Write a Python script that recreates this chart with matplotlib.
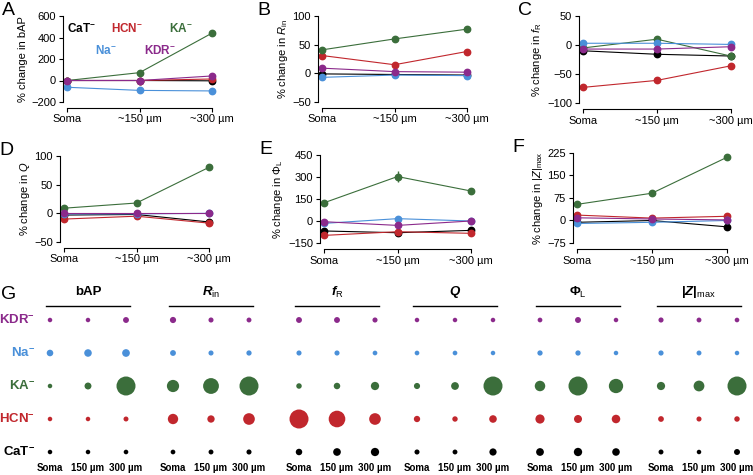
import matplotlib.pyplot as plt
import numpy as np

plt.rcParams['font.family'] = ['Liberation Sans', 'DejaVu Sans']
plt.rcParams['mathtext.fontset'] = 'custom'
plt.rcParams['mathtext.rm'] = 'Liberation Sans'
plt.rcParams['mathtext.it'] = 'Liberation Sans:italic'
plt.rcParams['mathtext.bf'] = 'Liberation Sans:bold'
plt.rcParams['mathtext.bfit'] = 'Liberation Sans:bold:italic'

W, H = 753, 475

locations = ['Soma', '~150 µm', '~300 µm']
g_locations = ['Soma', '150 µm', '300 µm']
channels = ['CaT', 'HCN', 'KA', 'Na', 'KDR']
colors = ['black', '#c1272d', '#3b6e3b', '#4a90d9', '#8b2a8b']

# % change after knocking out each channel (rows follow `channels`)
bap = [[0, 0, -3], [0, 0, 14], [0, 73, 439], [-63, -92, -97], [0, 0, 42]]
rin = [[-1, -2, -3], [31, 15, 38], [41, 60, 77], [-7, -3, -4], [9, 3, 2]]
fr = [[-10, -16, -19], [-73, -61, -36], [-5, 10, -19], [3, 3, 1], [-7, -7, -3]]
q = [[-3, -2, -15], [-10, -5, -17], [9, 18, 80], [-1, -1, 0], [0, 0, 0]]
phi = [[-68, -80, -64], [-98, -73, -84], [125, 303, 205], [-16, 16, 0], [-5, -30, 0]]
phi_ka_err = [0, 35, 0]
zmax = [[-6, 0, -21], [18, 8, 14], [54, 91, 210], [-10, -6, 0], [9, 5, 2]]


def px_rect(left, top, right, bottom):
    return [left / W, 1 - bottom / H, (right - left) / W, (bottom - top) / H]


fig = plt.figure(figsize=(W / 100, H / 100), dpi=100)

panels = [
    ('A', bap, '% change in bAP', (-200, 600), [-200, 0, 200, 400, 600], (63, 16, 216, 102)),
    ('B', rin, r'% change in $\mathit{R}_{\mathrm{in}}$', (-50, 100), [-50, 0, 50, 100], (318, 16, 471, 102)),
    ('C', fr, r'% change in $\mathit{f}_{\mathrm{R}}$', (-100, 50), [-100, -50, 0, 50], (579, 16, 735, 103)),
    ('D', q, r'% change in $\mathit{Q}$', (-50, 100), [-50, 0, 50, 100], (60, 156, 213, 242)),
    ('E', phi, r'% change in Φ$_{\mathrm{L}}$', (-150, 450), [-150, 0, 150, 300, 450], (320, 155, 475, 243)),
    ('F', zmax, r'% change in |$\mathit{Z}$|$_{\mathrm{max}}$', (-75, 225), [-75, 0, 75, 150, 225], (573, 153, 731, 243)),
]

x = np.arange(3)
for letter, data, ylabel, ylim, yticks, rect in panels:
    ax = fig.add_axes(px_rect(*rect))
    for vals, c in zip(data, colors):
        ax.plot(x, vals, '-', color=c, lw=0.8, marker='o', ms=4.6, mec=c, mfc=c, clip_on=False)
    if letter == 'E':
        ax.errorbar(x, phi[2], yerr=phi_ka_err, fmt='none', ecolor=colors[2], elinewidth=1.0, capsize=0)
    ax.set_xlim(-0.06, 2.06)
    ax.set_ylim(*ylim)
    ax.set_yticks(yticks)
    ax.set_xticks(x)
    ax.set_xticklabels(locations)
    ax.spines['top'].set_visible(False)
    ax.spines['right'].set_visible(False)
    ax.spines['bottom'].set_position(('outward', 4))
    ax.spines['bottom'].set_bounds(0, 2)
    for s in ['left', 'bottom']:
        ax.spines[s].set_linewidth(0.8)
    ax.tick_params(direction='out', length=3, width=0.8, labelsize=8, pad=2)
    ax.set_ylabel(ylabel, fontsize=8, labelpad=2)
    fig.text((rect[0] - 61) / W, 1 - (rect[1] - 14) / H, letter, fontsize=14, va='top', ha='left')

# legend text in panel A
legend_pos = [(67, 29), (111, 29), (169, 29), (95, 50), (144, 50)]
for name, c, (lx, ly) in zip(channels, colors, legend_pos):
    fig.text(lx / W, 1 - ly / H, name + r'$^{\mathbf{-}}$', color=c, fontsize=8.5,
             fontweight='bold', va='center', ha='left')

# panel G: bubble summary
axg = fig.add_axes([0, 0, 1, 195 / H])
unit_x, unit_y = 38.0, 33.0
axg.set_xlim(-50 / unit_x, (W - 50) / unit_x)
axg.set_ylim((452 - 475) / unit_y, (452 - 280) / unit_y)
axg.axis('off')

measures = [bap, rin, fr, q, phi, zmax]
headers = ['bAP', r'$\mathbfit{R}_{\mathrm{in}}$', r'$\mathbfit{f}_{\mathrm{R}}$', r'$\mathbfit{Q}$',
           r'Φ$_{\mathrm{L}}$', r'|$\mathbfit{Z}$|$_{\mathrm{max}}$']
group_x = [(p - 50) / unit_x for p in [50, 173, 299, 417, 540, 661]]
d_min, d_max = 4.5, 19.0

for gx, data, head in zip(group_x, measures, headers):
    arr = np.abs(np.array(data, dtype=float))
    norm = arr / arr.max()
    for r, c in enumerate(colors):
        d_px = d_min + (d_max - d_min) * norm[r]
        axg.scatter(gx + x, np.full(3, r), s=(d_px * 0.72) ** 2, color=c, lw=0, clip_on=False)
    axg.plot([gx - 0.1, gx + 2.1], [4.42, 4.42], color='black', lw=1.0, clip_on=False)
    axg.text(gx + 1, 4.85, head, fontsize=9.5, fontweight='bold', ha='center', va='center')
    for j, lab in enumerate(g_locations):
        axg.text(gx + j, -0.485, lab, fontsize=7, fontweight='bold', ha='center', va='center')

for r, (name, c) in enumerate(zip(channels, colors)):
    axg.text(-0.4, r, name + r'$^{\mathbf{-}}$', color=c, fontsize=9.5, fontweight='bold',
             ha='right', va='center')

fig.text(1 / W, 1 - 286 / H, 'G', fontsize=14, va='top', ha='left')

fig.savefig('out.png', dpi=100)
